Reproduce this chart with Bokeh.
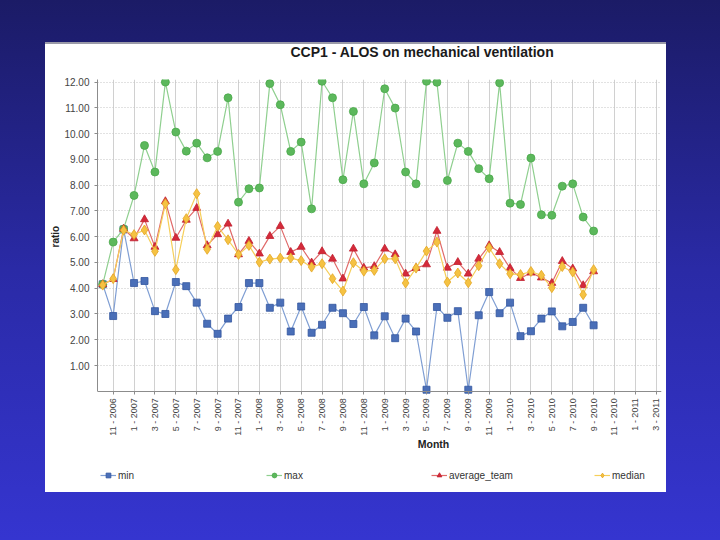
import numpy as np
from bokeh.plotting import figure
from bokeh.models import Range1d, FixedTicker, Legend, LegendItem, Title, Label, PrintfTickFormatter
from bokeh.embed import file_html
from bokeh.resources import INLINE

# category axis: months shown on the x axis
months = [
    "10 - 2006", "11 - 2006", "12 - 2006",
    "1 - 2007", "2 - 2007", "3 - 2007", "4 - 2007", "5 - 2007", "6 - 2007",
    "7 - 2007", "8 - 2007", "9 - 2007", "10 - 2007", "11 - 2007", "12 - 2007",
    "1 - 2008", "2 - 2008", "3 - 2008", "4 - 2008", "5 - 2008", "6 - 2008",
    "7 - 2008", "8 - 2008", "9 - 2008", "10 - 2008", "11 - 2008", "12 - 2008",
    "1 - 2009", "2 - 2009", "3 - 2009", "4 - 2009", "5 - 2009", "6 - 2009",
    "7 - 2009", "8 - 2009", "9 - 2009", "10 - 2009", "11 - 2009", "12 - 2009",
    "1 - 2010", "2 - 2010", "3 - 2010", "4 - 2010", "5 - 2010", "6 - 2010",
    "7 - 2010", "8 - 2010", "9 - 2010", "10 - 2010", "11 - 2010", "12 - 2010",
    "1 - 2011", "2 - 2011", "3 - 2011",
]
labelled_months = [
    "11 - 2006", "1 - 2007", "3 - 2007", "5 - 2007", "7 - 2007", "9 - 2007",
    "11 - 2007", "1 - 2008", "3 - 2008", "5 - 2008", "7 - 2008", "9 - 2008",
    "11 - 2008", "1 - 2009", "3 - 2009", "5 - 2009", "7 - 2009", "9 - 2009",
    "11 - 2009", "1 - 2010", "3 - 2010", "5 - 2010", "7 - 2010", "9 - 2010",
    "11 - 2010", "1 - 2011", "3 - 2011",
]

min_vals = [4.15, 2.92, 6.28, 4.20, 4.28, 3.11, 3.00, 4.24, 4.08, 3.44, 2.62, 2.23,
            2.82, 3.27, 4.20, 4.20, 3.24, 3.44, 2.32, 3.29, 2.27, 2.58, 3.24, 3.03,
            2.61, 3.27, 2.17, 2.91, 2.06, 2.82, 2.32, 0.06, 3.27, 2.85, 3.11, 0.06,
            2.95, 3.85, 3.03, 3.44, 2.14, 2.33, 2.82, 3.10, 2.52, 2.69, 3.24, 2.56]
max_vals = [4.15, 5.79, 6.30, 7.60, 9.54, 8.51, 12.00, 10.06, 9.32, 9.63, 9.06, 9.31,
            11.39, 7.34, 7.86, 7.89, 11.94, 11.12, 9.31, 9.67, 7.08, 12.03, 11.39, 8.21,
            10.86, 8.05, 8.86, 11.74, 10.99, 8.51, 8.05, 12.03, 11.99, 8.18, 9.63, 9.31,
            8.64, 8.25, 11.97, 7.30, 7.25, 9.05, 6.85, 6.83, 7.96, 8.05, 6.76, 6.22]
avg_vals = [4.15, 4.35, 6.30, 5.93, 6.67, 5.60, 7.37, 5.95, 6.65, 7.11, 5.66, 6.09,
            6.50, 5.31, 5.83, 5.34, 6.02, 6.41, 5.40, 5.60, 4.99, 5.43, 5.14, 4.37,
            5.53, 4.79, 4.85, 5.53, 5.31, 4.56, 4.78, 4.92, 6.22, 4.79, 5.01, 4.56,
            5.14, 5.66, 5.40, 4.78, 4.39, 4.60, 4.41, 4.20, 5.05, 4.76, 4.11, 4.65]
median_vals = [4.12, 4.37, 6.25, 6.08, 6.26, 5.43, 7.28, 4.72, 6.70, 7.67, 5.51, 6.40,
               5.88, 5.31, 5.66, 5.01, 5.13, 5.17, 5.17, 5.07, 4.82, 4.95, 4.37, 3.89,
               4.99, 4.66, 4.69, 5.14, 5.14, 4.20, 4.78, 5.44, 5.79, 4.24, 4.59, 4.21,
               4.87, 5.57, 4.95, 4.56, 4.53, 4.65, 4.50, 4.02, 4.84, 4.63, 3.75, 4.72]
y_ticks = [1, 2, 3, 4, 5, 6, 7, 8, 9, 10, 11, 12]

FONT = "Liberation Sans"
Y_TOP = 12.1
Y_BOTTOM = -3.657   # room under the value axis for the month labels and legend

p = figure(width=720, height=540, output_backend="svg", toolbar_location=None,
           x_range=Range1d(-0.5, len(months) - 0.5), y_range=Range1d(Y_BOTTOM, Y_TOP),
           min_border_left=97, min_border_right=59, min_border_top=79, min_border_bottom=55,
           background_fill_color="white", border_fill_alpha=0.0)
p.outline_line_color = None
p.styles = {
    "background": ("linear-gradient(#9a9aa8, #9a9aa8) 45px 42px / 621px 2px no-repeat, "
                   "linear-gradient(#ffffff, #ffffff) 45px 42px / 621px 450px no-repeat, "
                   "linear-gradient(180deg, #1b1b66 0%, #2a2aa6 50%, #3535d0 100%)"),
}

x_idx = [months.index(m) for m in months[:len(min_vals)]]
tick_idx = [months.index(m) for m in labelled_months]

# x axis sits at value 0
p.xaxis.fixed_location = 0
p.xaxis.ticker = FixedTicker(ticks=tick_idx)
p.xaxis.major_label_overrides = {i: months[i] for i in tick_idx}
p.xaxis.major_label_orientation = np.pi / 2
p.xaxis.major_label_text_font = FONT
p.xaxis.major_label_text_font_size = "9px"
p.xaxis.major_label_text_color = "#444444"
p.xaxis.major_label_standoff = 4
p.xaxis.axis_line_color = "#8c8c8c"
p.xaxis.major_tick_line_color = "#8c8c8c"
p.xaxis.major_tick_out = 3
p.xaxis.major_tick_in = 0
p.xaxis.minor_tick_line_color = None

p.yaxis.bounds = (0, Y_TOP)
p.yaxis.ticker = FixedTicker(ticks=y_ticks)
p.yaxis.formatter = PrintfTickFormatter(format="%.2f")
p.yaxis.major_label_text_font = FONT
p.yaxis.major_label_text_font_size = "10px"
p.yaxis.major_label_text_color = "#444444"
p.yaxis.major_label_standoff = 5
p.yaxis.axis_line_color = "#8c8c8c"
p.yaxis.major_tick_line_color = "#8c8c8c"
p.yaxis.major_tick_out = 3
p.yaxis.major_tick_in = 0
p.yaxis.minor_tick_line_color = None

p.xgrid.ticker = FixedTicker(ticks=tick_idx)
p.xgrid.grid_line_color = "#d0d0d0"
p.xgrid.grid_line_width = 1
try:
    p.xgrid.cross_bounds = (0, Y_TOP)
except Exception:
    p.xgrid.visible = False
    p.segment(x0=tick_idx, x1=tick_idx, y0=[0] * len(tick_idx), y1=[Y_TOP] * len(tick_idx),
              line_color="#d0d0d0", line_width=1)
p.ygrid.ticker = FixedTicker(ticks=y_ticks)
p.ygrid.grid_line_color = "#c4c4c4"
p.ygrid.grid_line_dash = "1 2"

# titles
p.add_layout(Title(text="CCP1 - ALOS on mechanical ventilation", align="left", offset=193,
                   text_font=FONT, text_font_size="14px", text_font_style="bold",
                   text_color="#1a1a1a", standoff=40), "above")
p.add_layout(Title(text="ratio", align="left", offset=238, text_font=FONT,
                   text_font_size="10px", text_font_style="bold", text_color="#222222",
                   standoff=2), "left")
p.add_layout(Label(x=31.67, y=-2.03, text="Month", text_align="center", text_baseline="middle",
                   text_font=FONT, text_font_size="10.5px", text_font_style="bold",
                   text_color="#222222"))

series = [
    ("min", min_vals, "#7f9ed3", "square", "#4a6fb8", "#3357a0", 7),
    ("max", max_vals, "#8fcf8f", "circle", "#5cb85c", "#4aa84a", 8),
    ("average_team", avg_vals, "#e06a6a", "triangle", "#d42a3a", "#c01f2e", 8),
    ("median", median_vals, "#f6cf5a", "diamond", "#f5c242", "#e3a624", 10),
]

legend_x = [3, 169, 334, 497]
for (name, vals, lcol, marker, fcol, ecol, size), lx in zip(series, legend_x):
    lr = p.line(x_idx, vals, line_color=lcol, line_width=1.2)
    sr = p.scatter(x_idx, vals, marker=marker, size=size, fill_color=fcol, line_color=ecol,
                   line_width=0.8)
    leg = Legend(items=[LegendItem(label=name, renderers=[lr, sr])], location=(lx, 4),
                 orientation="horizontal", background_fill_alpha=0, border_line_alpha=0,
                 padding=0, margin=0, spacing=0, glyph_width=16, glyph_height=12,
                 label_height=12, label_standoff=2, label_text_font=FONT,
                 label_text_font_size="10px", label_text_color="#333333")
    p.add_layout(leg, "center")

open("out.html", "w").write(file_html(p, INLINE))
